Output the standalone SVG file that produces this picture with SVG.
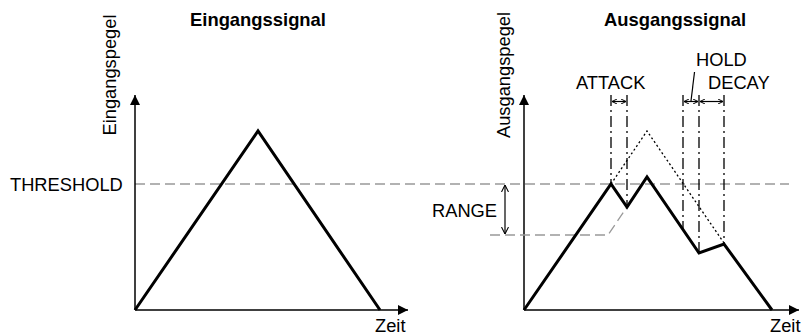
<svg xmlns="http://www.w3.org/2000/svg" width="801" height="335" viewBox="0 0 801 335">
<style>
text{font-family:"Liberation Sans",Arial,sans-serif;font-size:18.3px;fill:#000}
.title{font-weight:bold;font-size:18.4px}
.axis{stroke:#000;stroke-width:1.5;fill:none}
.sig{stroke:#000;stroke-width:3;fill:none;stroke-linejoin:miter}
.gdash{stroke:#999;stroke-width:1.3;fill:none;stroke-dasharray:10,5}
.dot{stroke:#000;stroke-width:1.3;fill:none;stroke-dasharray:2,2.5}
.dd{stroke:#000;stroke-width:1.3;fill:none;stroke-dasharray:11,4,2,4}
.thin{stroke:#000;stroke-width:1.2;fill:none}
</style>
<defs>
<marker id="ah" viewBox="0 0 10 10" refX="10" refY="5" markerWidth="10" markerHeight="10" markerUnits="userSpaceOnUse" orient="auto-start-reverse">
<path d="M0,0 L10,5 L0,10 z" fill="#000"/>
</marker>
<marker id="vh" viewBox="0 0 10 10" refX="10" refY="5" markerWidth="7" markerHeight="8" markerUnits="userSpaceOnUse" orient="auto-start-reverse">
<path d="M0,0 L10,5 L0,10" fill="none" stroke="#000" stroke-width="1.5"/>
</marker>
<marker id="sh" viewBox="0 0 10 10" refX="10" refY="5" markerWidth="5" markerHeight="5" markerUnits="userSpaceOnUse" orient="auto-start-reverse">
<path d="M0,0 L10,5 L0,10" fill="none" stroke="#000" stroke-width="2"/>
</marker>
</defs>

<g id="threshold-line">
<line class="gdash" x1="135" y1="184" x2="789" y2="184"/>
</g>

<g id="input-panel">
<text class="title" x="258" y="26" text-anchor="middle">Eingangssignal</text>
<text transform="translate(116,75) rotate(-90)" text-anchor="middle">Eingangspegel</text>
<text x="10" y="191">THRESHOLD</text>
<text x="375" y="332">Zeit</text>
<line class="axis" x1="135" y1="310" x2="135" y2="95" marker-end="url(#ah)"/>
<line class="axis" x1="135" y1="310" x2="408" y2="310" marker-end="url(#ah)"/>
<polyline class="sig" points="135,310 258,131 380,310"/>
</g>

<g id="output-panel">
<text class="title" x="675" y="26" text-anchor="middle">Ausgangssignal</text>
<text transform="translate(510,75) rotate(-90)" text-anchor="middle">Ausgangspegel</text>
<text x="770" y="332">Zeit</text>
<line class="axis" x1="524" y1="310" x2="524" y2="95" marker-end="url(#ah)"/>
<line class="axis" x1="524" y1="310" x2="799" y2="310" marker-end="url(#ah)"/>
<polyline class="gdash" points="490,235 608,235 627,207"/>
<polyline class="dot" points="611,184 647,131 724,243"/>
<polyline class="sig" points="524,310 611,184 627,207 647,177 699,253 724,244 772,310"/>
</g>

<g id="range">
<text x="432" y="217">RANGE</text>
<line class="thin" x1="505" y1="185" x2="505" y2="234" marker-start="url(#vh)" marker-end="url(#vh)"/>
</g>

<g id="connectors">
<line class="dd" x1="611" y1="95" x2="611" y2="184"/>
<line class="dd" x1="627" y1="95" x2="627" y2="207"/>
<line class="dd" x1="683" y1="95" x2="683" y2="229"/>
<line class="dd" x1="699" y1="95" x2="699" y2="253"/>
<line class="dd" x1="724" y1="95" x2="724" y2="244"/>
<line class="thin" x1="612" y1="101.5" x2="626" y2="101.5" marker-start="url(#sh)" marker-end="url(#sh)"/>
<line class="thin" x1="684" y1="101.5" x2="698" y2="101.5" marker-start="url(#sh)" marker-end="url(#sh)"/>
<line class="thin" x1="700" y1="101.5" x2="723" y2="101.5" marker-start="url(#sh)" marker-end="url(#sh)"/>
<line class="thin" x1="694.5" y1="72" x2="691" y2="101"/>
</g>

<g id="labels">
<text x="576" y="89">ATTACK</text>
<text x="696" y="66">HOLD</text>
<text x="708" y="89">DECAY</text>
</g>
</svg>
